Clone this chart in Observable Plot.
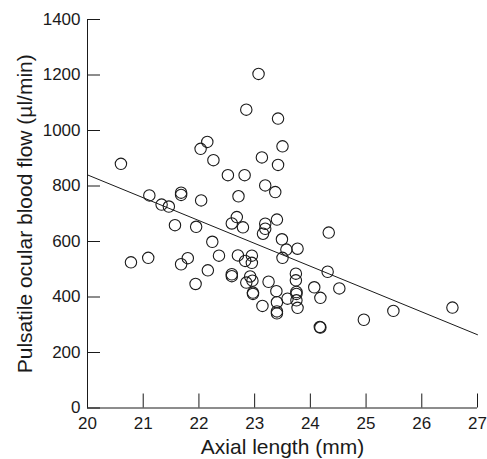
<!DOCTYPE html>
<html>
<head>
<meta charset="utf-8">
<script src="https://cdn.jsdelivr.net/npm/d3@7"></script>
<script src="https://cdn.jsdelivr.net/npm/@observablehq/plot@0.6"></script>
<style>
  html, body { margin: 0; padding: 0; background: #fff; }
</style>
</head>
<body>
<div id="chart"></div>
<script>
// Axial length (mm) of each eye
const axialLength = [
  20.60, 20.78, 21.09, 21.11, 21.33, 21.46, 21.57, 21.68, 21.68, 21.68,
  21.80, 21.94, 21.95, 22.04, 22.03, 22.15, 22.16, 22.24, 22.26, 22.36,
  22.52, 22.59, 22.59, 22.59, 22.68, 22.70, 22.71, 22.79, 22.82, 22.85,
  22.83, 22.95, 22.95, 22.92, 22.96, 22.85, 22.97, 22.97, 23.07, 23.13,
  23.14, 23.15, 23.19, 23.19, 23.19, 23.25, 23.37, 23.39, 23.40, 23.40,
  23.40, 23.40, 23.42, 23.42, 23.49, 23.50, 23.50, 23.57, 23.59, 23.74,
  23.74, 23.75, 23.75, 23.75, 23.77, 23.77, 24.07, 24.18, 24.17, 24.18,
  24.31, 24.33, 24.52, 24.96, 25.49, 26.55
];
// Pulsatile ocular blood flow (µl/min)
const bloodFlow = [
  880, 525, 541, 766, 733, 726, 659, 776, 768, 518,
  540, 447, 653, 748, 934, 959, 496, 599, 893, 549,
  839, 482, 475, 665, 688, 550, 763, 651, 839, 1075,
  530, 549, 523, 474, 459, 452, 416, 411, 1204, 903,
  368, 628, 646, 664, 802, 455, 778, 421, 679, 381,
  348, 341, 1043, 876, 608, 943, 541, 571, 394, 484,
  460, 418, 411, 388, 361, 574, 435, 397, 292, 290,
  491, 632, 431, 318, 350, 362
];
// Regression line end points
const fitX = [20, 27];
const fitY = [840, 264];

const xTicks = [20, 21, 22, 23, 24, 25, 26, 27];
const yTicks = [0, 200, 400, 600, 800, 1000, 1200, 1400];

const points = axialLength.map((x, i) => ({x, y: bloodFlow[i]}));
const fit = fitX.map((x, i) => ({x, y: fitY[i]}));

const W = 487, H = 459;
const mL = 87, mR = 10, mT = 19, mB = 51.5;
const plotW = W - mL - mR, plotH = H - mT - mB;
const ink = "#1a1a1a";

const chart = Plot.plot({
  width: W,
  height: H,
  marginLeft: mL,
  marginRight: mR,
  marginTop: mT,
  marginBottom: mB,
  style: {fontFamily: "'Liberation Sans', Arial, sans-serif", background: "#fff", color: ink},
  x: {domain: [20, 27]},
  y: {domain: [0, 1400]},
  marks: [
    Plot.axisX(xTicks, {tickSize: 0, tickPadding: 9, fontSize: 17, label: null, tickFormat: d => String(d)}),
    Plot.axisY(yTicks, {tickSize: 0, tickPadding: 7, fontSize: 17, label: null, tickFormat: d => String(d)}),
    Plot.tickX(xTicks, {x: d => d, stroke: ink, strokeWidth: 1, insetTop: plotH - 14}),
    Plot.tickY(yTicks, {y: d => d, stroke: ink, strokeWidth: 1, insetRight: plotW - 13}),
    Plot.ruleX([20], {stroke: ink, strokeWidth: 1}),
    Plot.ruleY([0], {stroke: ink, strokeWidth: 1}),
    Plot.line(fit, {x: "x", y: "y", stroke: ink, strokeWidth: 1}),
    Plot.dot(points, {x: "x", y: "y", r: 5.7, stroke: ink, strokeWidth: 1.1, fill: "none"}),
    Plot.text(["Axial length (mm)"], {frameAnchor: "bottom", dy: 46, fontSize: 21, fill: ink}),
    Plot.text(["Pulsatile ocular blood flow (µl/min)"], {frameAnchor: "left", textAnchor: "middle", rotate: -90, dx: -62, fontSize: 21, fill: ink})
  ]
});
document.getElementById("chart").appendChild(chart);
</script>
</body>
</html>
